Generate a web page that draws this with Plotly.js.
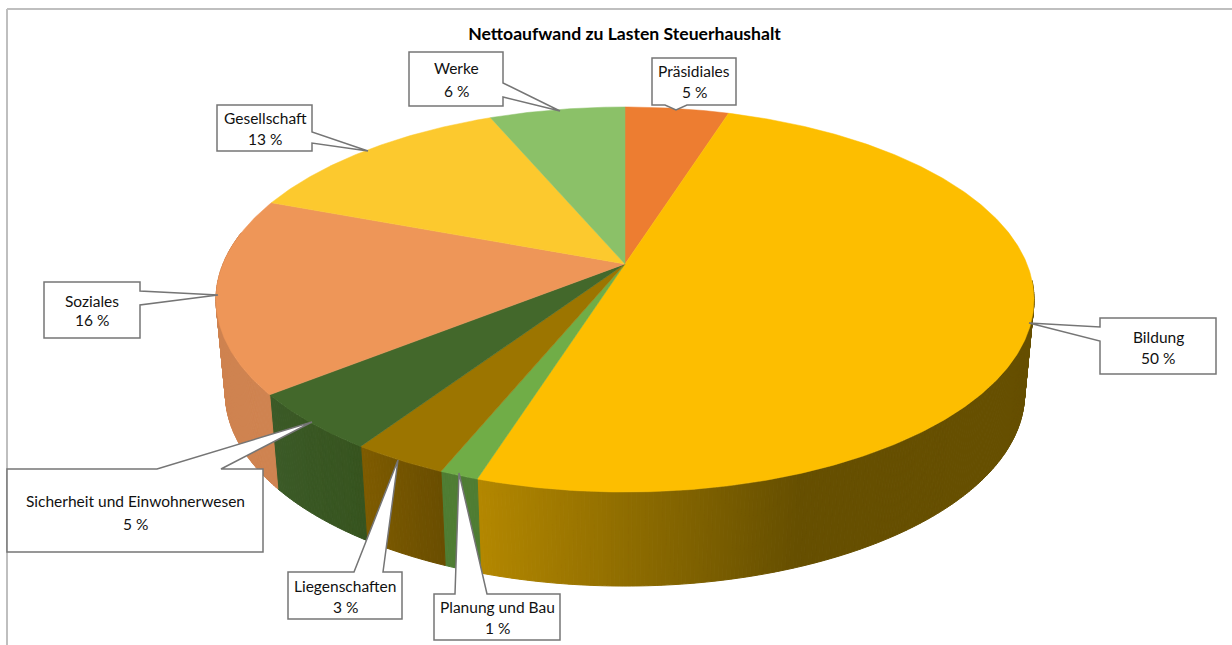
<!DOCTYPE html>
<html><head><meta charset="utf-8">
<script src="https://cdn.plot.ly/plotly-3.0.1.min.js"></script>
<style>html,body{margin:0;padding:0;background:#fff}#c{width:1232px;height:645px}</style>
</head><body><div id="c"></div>
<script>
// ---- data (clockwise from 12 o'clock) ----
const chartTitle = "Nettoaufwand zu Lasten Steuerhaushalt";
const categories = ["Präsidiales","Bildung","Planung und Bau","Liegenschaften","Sicherheit und Einwohnerwesen","Soziales","Gesellschaft","Werke"];
const shares     = [4.9, 50.0, 1.3, 3.2, 4.9, 16.4, 12.9, 6.4];
const topColors  = ["#ED7D31","#FDBE00","#70AD47","#9C7500","#43682B","#EE9658","#FCC92E","#8BC168"];
// wall colours: [colour at left end of the wall piece, colour at right end]
const wallColors = [["#8F4E1F","#8F4E1F"],["#B48800","#664F00"],["#4F7D33","#4F7D33"],["#7F5C00","#6A4E00"],["#3B5A27","#37541F"],["#CF8350","#CF8350"],["#A08020","#A08020"],["#5A7A45","#5A7A45"]];
// ---- callouts: outline points, label centre ----
const callouts = [
 {pts:[[652,58],[736,58],[736,105],[687,105],[676,110],[665,105],[652,105]], cx:694, y1:71, y2:92},
 {pts:[[1100,318],[1216,318],[1216,374],[1100,374],[1100,341],[1029,323],[1100,327]], cx:1158, y1:337, y2:358},
 {pts:[[434,594],[455,594],[459,473],[487,594],[560,594],[560,640],[434,640]], cx:497, y1:607, y2:628},
 {pts:[[288,572],[354,572],[398,460],[383,572],[402,572],[402,619],[288,619]], cx:345, y1:586, y2:607},
 {pts:[[7,469],[157,469],[312,422],[221,469],[263,469],[263,552],[7,552]], cx:135, y1:501, y2:524},
 {pts:[[44,282],[140,282],[140,291],[218,295],[140,305],[140,338],[44,338]], cx:92, y1:301, y2:320},
 {pts:[[217,105],[312,105],[312,132],[368,151],[312,143],[312,151],[217,151]], cx:265, y1:118, y2:139},
 {pts:[[409,52],[503,52],[503,83],[560,111],[503,97],[503,106],[409,106]], cx:456, y1:68, y2:91}
];
// ---- projection of the tilted disc ----
const CX=625, CY=264, SX=402, SY=186, K=0.1844, DEPTH=94, SHRINK=0.977;
function rim(deg){
  const t=deg*Math.PI/180, u=Math.sin(t), v=-Math.cos(t), w=1-K*v;
  return [CX+SX*u/w, CY+SY*v/w];
}
function low(deg){ const p=rim(deg); return [CX+(p[0]-CX)*SHRINK, p[1]+DEPTH]; }
function hex(c){return [1,3,5].map(i=>parseInt(c.substr(i,2),16));}
function mix(a,b,f){const A=hex(a),B=hex(b);return "rgb("+A.map((x,i)=>Math.round(x+(B[i]-x)*f)).join(",")+")";}

const total=shares.reduce((a,b)=>a+b,0);
const traces=[];
let start=0;
const spans=shares.map(s=>{const a=start,b=start+s/total*360;start=b;return [a,b];});
// side wall: visible from right silhouette round the front to left silhouette
const wallFrom=95, wallTo=280;
spans.forEach((sp,i)=>{
  const a=Math.max(sp[0],wallFrom), b=Math.min(sp[1],wallTo);
  if(b<=a) return;
  const n=Math.max(2,Math.ceil((b-a)*2));
  for(let j=0;j<n;j++){
    const d0=a+(b-a)*j/n, d1=a+(b-a)*(j+1)/n;
    const p0=rim(d0),p1=rim(d1),q0=low(d0),q1=low(d1);
    let col;
    if(i===1){ // Bildung wall shaded by horizontal position
      const f=Math.min(1,Math.max(0,(p0[0]-475)/(800-475)));
      col=mix(wallColors[1][0],wallColors[1][1],f);
    } else {
      const f=(b-d0)/(b-a);
      col=mix(wallColors[i][0],wallColors[i][1],f);
    }
    traces.push({type:"scatter",mode:"lines",x:[p0[0],p1[0],q1[0],q0[0],p0[0]],y:[p0[1],p1[1],q1[1],q0[1],p0[1]],
      fill:"toself",fillcolor:col,line:{color:col,width:1},hoverinfo:"skip",showlegend:false});
  }
});
// top face slices
spans.forEach((sp,i)=>{
  const xs=[CX],ys=[CY];
  const n=Math.max(4,Math.ceil((sp[1]-sp[0])*2));
  for(let j=0;j<=n;j++){const p=rim(sp[0]+(sp[1]-sp[0])*j/n);xs.push(p[0]);ys.push(p[1]);}
  xs.push(CX);ys.push(CY);
  traces.push({type:"scatter",mode:"lines",name:categories[i],x:xs,y:ys,fill:"toself",fillcolor:topColors[i],
    line:{color:topColors[i],width:0.5},hoverinfo:"name",showlegend:false});
});

const shapes=[
 {type:"line",xref:"x",yref:"y",x0:7,y0:9,x1:7,y1:645,line:{color:"#BFBFBF",width:2},layer:"below"},
 {type:"line",xref:"x",yref:"y",x0:7,y0:9,x1:1232,y1:9,line:{color:"#BFBFBF",width:2},layer:"below"}
];
const annotations=[];
const font={family:"Lato, Carlito, sans-serif",size:15.5,color:"#111"};
callouts.forEach((c,i)=>{
  shapes.push({type:"path",xref:"x",yref:"y",layer:"above",
    path:"M"+c.pts.map(p=>p[0]+" "+p[1]).join("L")+"Z",fillcolor:"#fff",line:{color:"#757575",width:1.5}});
  annotations.push({x:c.cx,y:c.y1,xref:"x",yref:"y",text:categories[i],showarrow:false,font,xanchor:"center",yanchor:"middle"});
  annotations.push({x:c.cx,y:c.y2,xref:"x",yref:"y",text:Math.round(shares[i])+" %",showarrow:false,font,xanchor:"center",yanchor:"middle"});
});

Plotly.newPlot("c",traces,{
  width:1232,height:645,margin:{l:0,r:0,t:0,b:0},paper_bgcolor:"#fff",plot_bgcolor:"#fff",showlegend:false,
  title:{text:"<b>"+chartTitle+"</b>",x:624.5/1232,xanchor:"center",y:1-34/645,yanchor:"middle",font:{family:"Lato, Carlito, sans-serif",size:17.6,color:"#000"}},
  xaxis:{visible:false,range:[0,1232],fixedrange:true},
  yaxis:{visible:false,range:[645,0],fixedrange:true},
  shapes,annotations
},{displayModeBar:false,staticPlot:true});
</script></body></html>
